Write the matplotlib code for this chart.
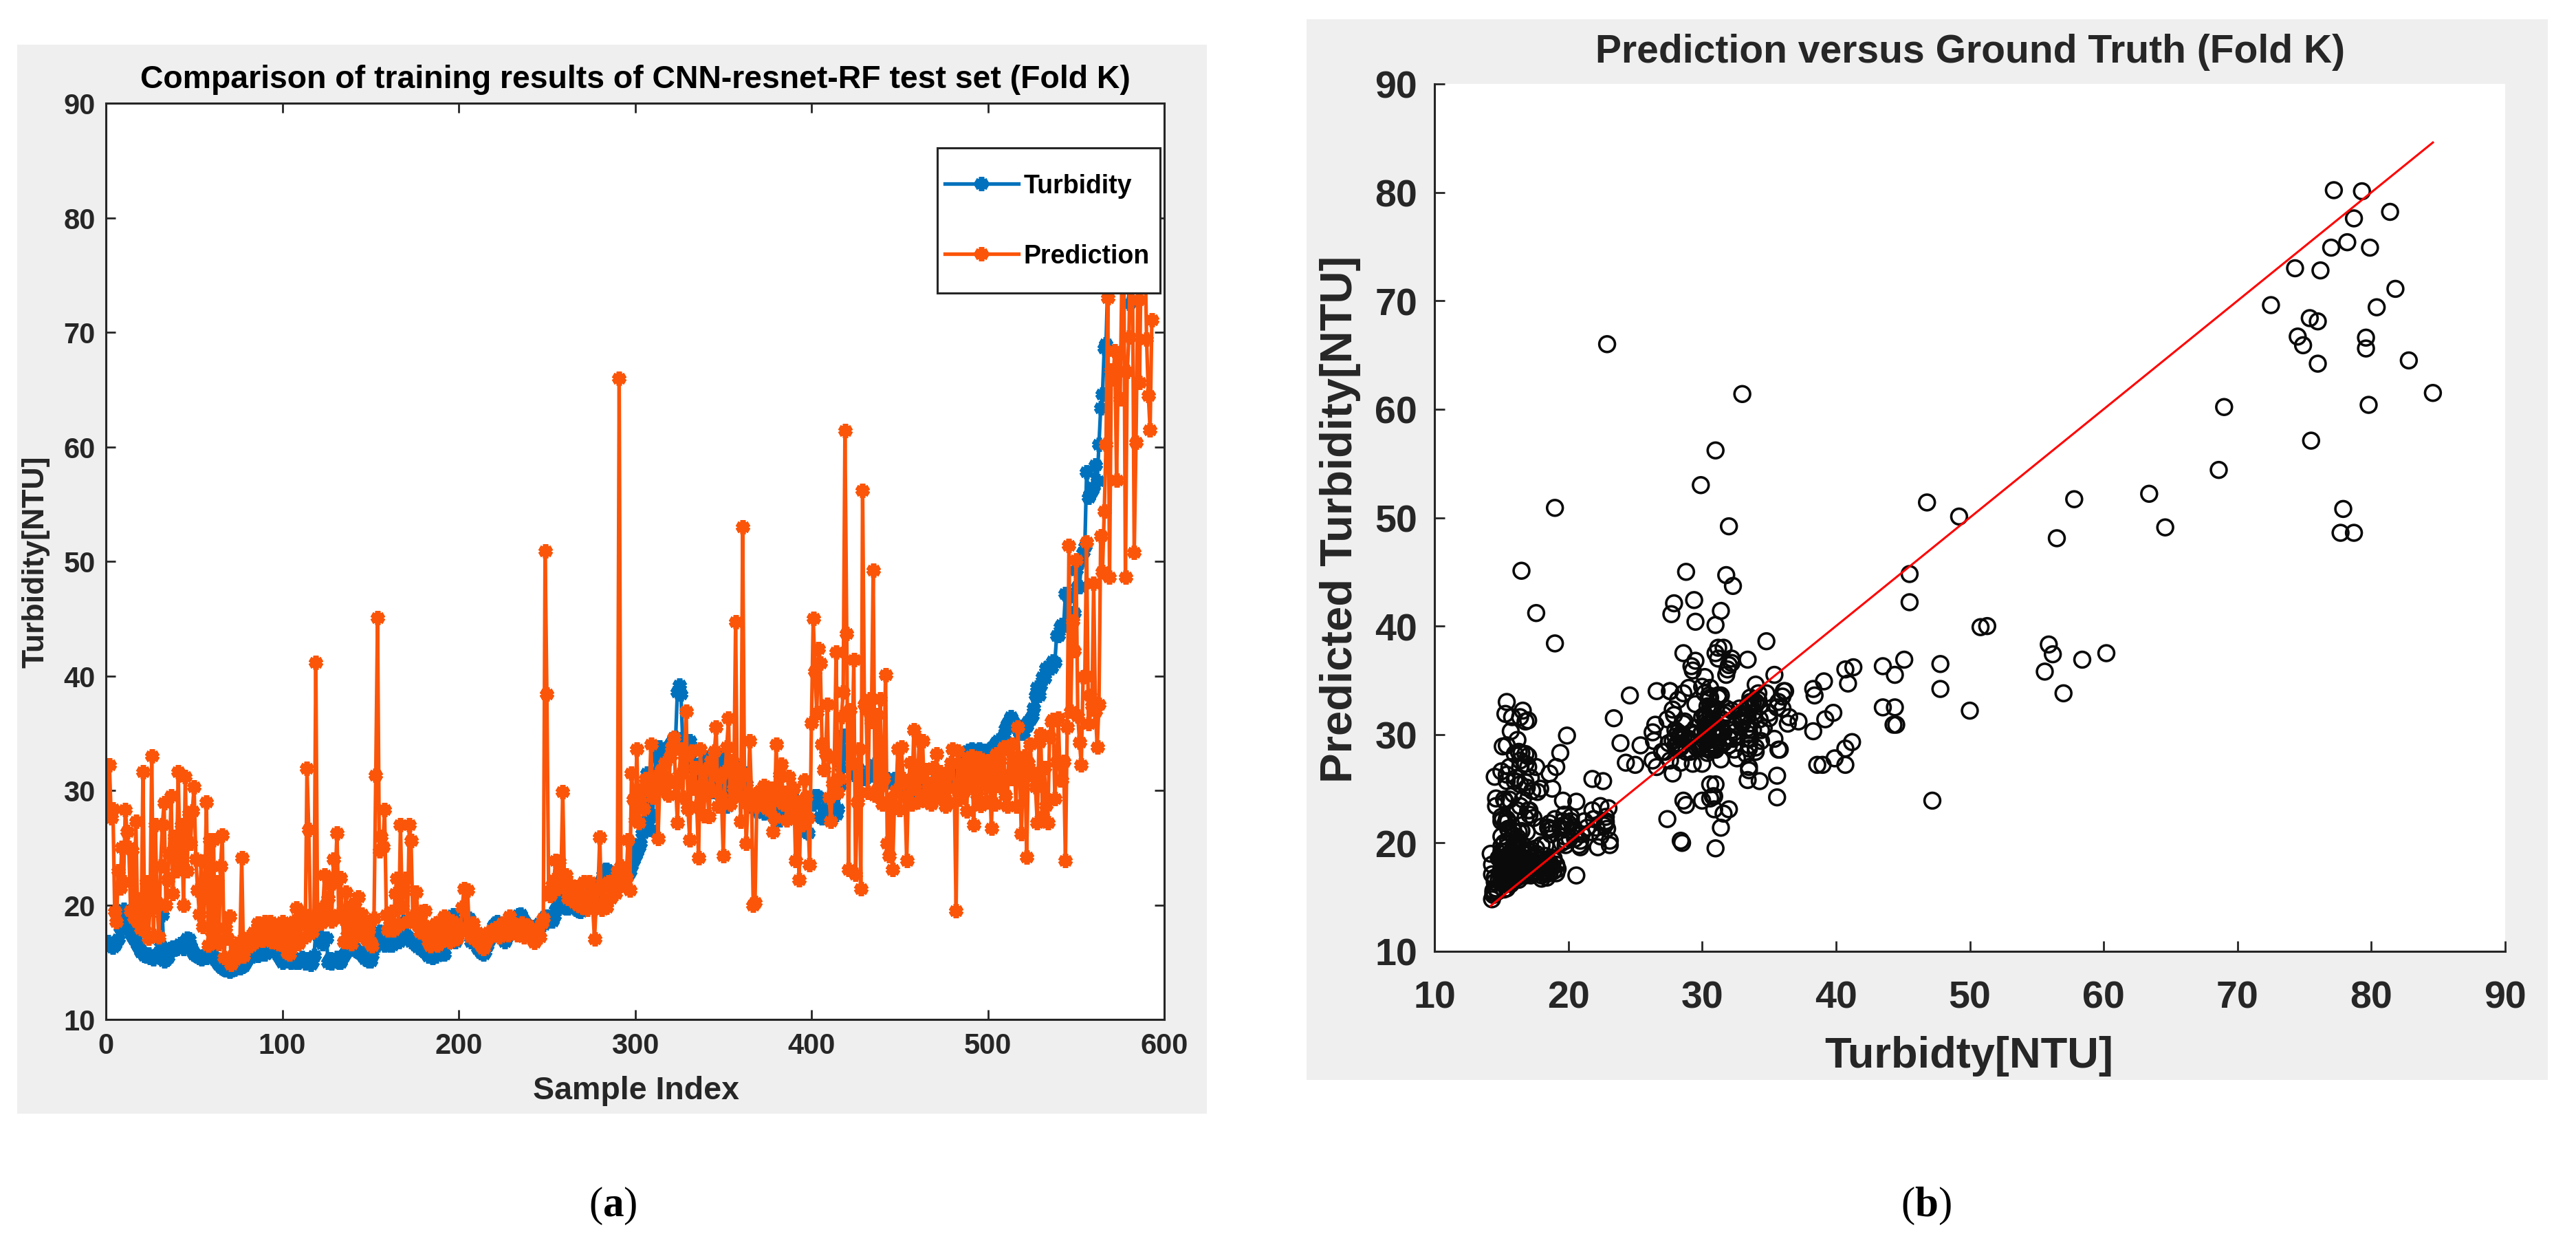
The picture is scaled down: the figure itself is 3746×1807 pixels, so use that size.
import numpy as np
import matplotlib
matplotlib.use("Agg")
import matplotlib.pyplot as plt

W, H = 3746, 1808

plt.rcParams['font.family'] = ['Liberation Sans', 'DejaVu Sans']
plt.rcParams['mathtext.fontset'] = 'custom'
plt.rcParams['mathtext.bf'] = 'Liberation Serif:bold'

# measured values per sample index, both panels are drawn from these
turbidity = [
    16.8,16.6,16.4,16.3,16.5,16.8,17.0,18.0,18.8,19.6,
    19.4,18.6,17.9,17.6,17.3,17.0,16.8,16.5,16.2,15.9,
    15.8,15.6,15.5,15.7,15.4,15.4,15.3,15.6,15.5,15.8,
    16.4,19.1,15.1,15.2,15.4,15.9,16.2,16.3,16.1,16.2,
    16.4,16.6,16.4,16.2,16.8,17.1,17.0,16.4,16.0,15.7,
    15.6,15.5,15.4,15.3,15.5,15.6,15.4,15.8,16.0,15.7,
    15.4,15.2,15.0,14.8,14.6,14.5,14.4,14.3,14.3,14.2,
    14.3,14.4,14.4,14.5,14.6,14.5,14.6,14.7,15.0,15.3,
    15.5,15.7,15.5,15.8,15.9,15.6,15.8,15.7,15.9,15.7,
    16.0,15.9,16.1,16.0,16.2,15.8,16.0,15.6,15.3,15.0,
    15.2,15.1,15.4,15.2,15.0,15.3,15.1,15.0,15.0,15.2,
    15.4,15.1,14.9,15.3,15.0,14.8,15.0,15.6,17.6,17.4,
    17.2,17.0,16.6,17.1,17.1,15.0,15.3,14.9,15.2,15.1,
    15.4,15.0,15.0,15.4,15.6,15.9,16.0,16.2,16.3,16.4,
    16.2,16.0,15.9,15.8,15.8,15.5,15.3,15.2,15.1,15.1,
    15.6,16.4,17.0,16.5,17.7,17.2,16.9,16.5,16.6,16.7,
    16.5,16.5,16.7,16.9,16.8,16.8,17.6,18.0,18.5,17.4,
    17.2,17.0,16.8,16.9,16.8,16.5,16.3,16.4,16.1,16.0,
    15.9,15.7,15.5,15.6,15.4,15.6,15.5,15.7,15.9,15.8,
    15.7,15.7,16.6,17.6,18.4,18.9,19.1,16.8,17.2,17.6,
    18.0,18.3,18.5,18.7,18.8,18.8,16.8,17.0,16.8,16.6,
    16.2,16.0,15.8,15.7,15.9,16.4,16.9,17.4,17.8,18.2,
    18.4,18.5,18.2,17.6,17.1,16.8,17.1,17.4,17.6,17.8,
    18.2,18.6,18.9,19.1,19.2,18.9,18.6,18.4,18.2,18.1,
    18.0,18.0,18.0,18.1,18.2,18.4,18.4,18.3,19.0,19.0,
    18.6,18.7,18.6,19.0,19.6,20.4,20.6,20.2,19.9,19.8,
    19.7,19.7,20.0,20.3,20.1,19.8,19.6,19.5,19.4,19.8,
    20.2,20.5,20.9,21.2,21.0,20.8,20.6,20.9,21.4,21.8,
    22.2,22.7,23.1,23.1,22.8,22.4,22.1,21.9,21.7,21.8,
    22.9,22.4,22.8,23.0,22.8,22.6,22.9,23.4,23.9,24.3,
    24.6,25.0,25.4,26.3,27.2,28.6,31.5,29.4,26.6,27.8,
    31.4,32.9,33.4,33.8,33.2,33.5,32.8,33.0,33.6,34.0,
    34.2,34.0,34.6,38.6,39.2,38.4,34.4,33.8,33.4,34.0,
    34.3,33.6,32.4,31.8,31.0,30.6,31.4,32.2,32.6,32.9,
    32.0,31.4,30.6,29.9,30.6,31.8,32.4,33.0,31.6,30.8,
    30.3,28.6,29.2,29.8,30.4,31.2,31.8,32.0,31.6,30.0,
    29.9,31.5,30.6,29.6,29.0,28.6,28.5,28.4,28.2,28.3,
    28.4,28.2,28.0,28.4,28.8,28.6,28.2,27.8,27.6,27.6,
    27.5,27.4,27.8,28.4,28.0,28.4,28.7,29.0,29.1,29.2,
    28.6,28.0,27.4,27.0,26.6,26.5,26.4,26.3,28.8,29.3,
    28.8,29.5,29.5,29.4,27.7,27.6,27.9,28.2,28.6,29.0,
    29.3,29.5,29.5,27.9,28.4,30.4,32.0,34.8,33.0,32.3,
    32.0,32.2,31.8,31.4,31.6,32.0,31.2,31.4,31.0,31.0,
    31.2,31.2,31.6,31.9,32.0,32.3,32.2,31.6,31.2,31.0,
    30.8,31.0,31.0,30.9,30.7,30.9,31.0,30.8,30.5,30.4,
    30.2,30.6,30.4,30.0,30.4,30.8,30.5,30.2,30.0,29.8,
    30.0,30.3,30.6,30.4,30.2,30.0,30.2,30.4,30.6,30.8,
    30.5,30.2,30.0,30.2,30.4,30.6,30.8,31.0,31.0,31.2,
    31.0,31.0,31.2,31.6,32.2,32.6,33.0,33.3,33.5,33.5,
    33.6,33.5,33.4,33.5,33.6,33.5,33.4,33.5,33.5,33.4,
    33.6,33.5,33.8,34.0,34.2,34.4,34.3,34.3,34.8,35.4,
    35.8,36.0,36.4,36.1,35.6,35.7,35.4,35.0,35.6,35.0,
    35.7,35.6,36.0,36.2,36.5,37.2,38.3,39.0,38.3,39.1,
    39.9,39.8,40.7,40.7,40.9,40.7,41.3,41.2,43.5,43.5,
    44.3,44.5,44.4,47.2,44.4,46.8,45.1,45.5,45.5,49.2,
    47.8,47.8,50.0,50.8,51.3,57.8,55.6,55.9,56.2,56.5,
    58.4,57.0,60.2,63.4,64.6,68.6,69.0,74.3,77.7,74.5,
    74.9,75.4,75.5,76.0,76.0,77.0,77.2,78.7,79.6,72.5,
    79.3,78.2,77.9,79.8,76.2,79.6,78.7,79.9,81.4,80.4,
    82.8,84.6,81.8,
]

prediction = [
    28.2,32.2,27.6,28.4,19.4,18.5,23.0,21.5,25.0,22.0,
    28.3,26.4,25.0,19.5,24.8,18.9,27.3,18.5,20.5,17.9,
    31.6,17.8,22.0,17.1,19.6,33.0,17.3,27.0,20.2,17.2,
    23.4,27.0,28.9,20.0,22.2,24.5,29.5,21.0,26.0,23.0,
    31.6,24.0,27.0,20.0,31.2,23.0,28.0,25.4,28.2,30.3,
    24.0,21.3,19.2,23.8,18.1,21.0,29.0,16.5,25.7,17.6,
    25.7,17.2,22.0,16.6,23.4,26.1,15.4,18.0,17.1,19.0,
    14.8,15.6,15.2,16.4,15.8,16.8,24.1,15.5,16.4,16.6,
    17.2,16.4,16.9,17.6,16.8,18.4,17.0,18.2,16.9,18.5,
    17.4,18.0,18.5,16.8,17.6,18.2,17.0,16.6,17.8,18.5,
    16.4,18.2,15.8,15.7,16.3,17.4,18.6,19.7,16.6,17.0,
    18.4,19.2,17.2,31.9,26.6,18.6,17.6,19.0,41.2,18.8,
    19.4,18.4,19.8,22.6,19.2,20.6,21.8,18.6,24.0,22.2,
    26.3,19.2,22.4,18.8,16.8,21.1,17.4,19.8,16.6,18.8,
    20.2,17.6,20.7,18.4,19.2,17.2,18.6,16.9,17.8,16.7,
    16.4,18.8,31.3,45.1,24.7,26.0,25.1,28.3,19.1,17.8,
    18.6,19.4,17.8,21.0,22.3,18.2,27.0,19.8,21.4,22.3,
    18.6,27.0,25.6,19.0,18.4,21.1,18.8,17.6,19.4,18.2,
    19.5,17.4,16.8,16.4,17.8,16.6,18.4,16.5,17.2,18.6,
    16.9,19.0,17.4,18.2,16.8,18.6,17.2,18.4,17.0,18.0,
    17.6,19.8,21.4,18.0,21.3,17.8,17.2,18.4,17.0,17.6,
    16.8,17.4,16.4,16.2,16.6,17.0,17.6,17.2,17.8,17.4,
    18.0,17.6,17.2,17.9,18.4,17.6,18.2,17.4,19.0,17.6,
    17.8,18.2,17.4,18.0,17.6,18.4,17.2,17.8,18.2,17.4,
    17.8,17.0,16.7,17.4,18.0,17.2,18.4,18.8,50.9,38.4,
    21.2,20.8,21.8,22.2,23.9,21.4,23.8,22.4,29.9,21.6,
    22.6,20.6,21.8,21.2,20.4,20.2,21.6,20.0,21.4,19.8,
    22.0,20.4,19.6,22.0,20.8,19.8,17.0,20.2,21.4,25.9,
    19.6,21.6,20.2,19.8,22.0,20.6,21.4,22.2,21.0,23.0,
    66.0,23.4,21.8,23.2,22.4,25.7,21.3,31.5,29.2,27.4,
    33.6,27.2,29.0,30.2,28.4,31.0,30.3,30.0,34.0,29.4,
    30.6,31.2,25.8,30.4,31.8,30.0,32.4,31.0,29.6,33.0,
    33.8,34.6,30.6,27.2,31.4,33.6,29.4,33.0,36.9,28.4,
    25.7,33.4,30.2,32.0,28.6,24.1,33.6,30.4,27.8,31.8,
    29.8,27.7,32.6,30.0,33.4,35.5,28.6,31.2,29.4,24.3,
    31.6,33.8,36.3,28.8,32.6,30.2,44.7,29.6,31.8,27.3,
    53.0,31.4,25.4,28.8,34.3,29.6,20.0,20.2,28.6,29.8,
    30.0,29.2,30.4,29.0,28.4,29.8,30.2,26.4,27.6,34.0,
    29.2,31.4,32.3,28.8,29.8,27.4,31.2,29.6,28.4,30.2,
    23.9,29.0,22.2,28.4,27.0,30.9,29.4,27.6,23.5,35.9,
    45.0,40.4,36.8,42.4,41.1,34.0,31.8,33.2,37.5,29.4,
    27.3,30.6,32.8,42.1,29.8,31.0,36.4,38.6,61.4,43.7,
    23.1,37.0,32.4,41.4,22.7,29.0,33.6,21.4,56.2,37.5,
    37.0,29.8,38.0,36.0,49.2,29.6,36.6,30.2,38.0,28.8,
    31.0,40.1,25.4,24.3,29.2,23.1,28.6,30.0,33.6,28.3,
    33.8,31.0,29.4,23.9,30.6,32.4,28.8,35.3,30.2,29.0,
    34.4,31.2,34.3,29.6,31.8,29.0,30.6,28.8,32.0,30.4,
    33.2,29.4,31.6,29.8,30.6,28.6,31.4,29.0,32.4,33.6,
    30.2,19.5,33.4,29.2,32.2,29.8,31.6,28.2,32.8,30.4,
    33.0,27.0,31.8,29.6,32.8,28.7,30.6,32.4,29.0,32.6,
    31.0,26.7,32.0,28.8,33.2,30.4,32.6,31.4,33.8,29.6,
    28.6,33.5,31.0,34.0,32.5,28.6,35.5,32.0,26.2,31.5,
    33.0,24.2,32.4,34.0,31.6,31.2,30.3,27.2,34.2,34.9,
    27.8,32.0,28.7,27.2,34.7,36.0,36.2,29.3,32.5,36.3,
    30.9,30.9,32.5,23.9,35.5,51.4,36.9,44.8,42.2,50.1,
    36.5,34.2,32.2,39.9,40.0,51.7,35.8,38.3,37.4,48.1,
    36.9,33.8,37.5,52.2,49.1,54.4,60.2,73.0,48.6,66.7,
    65.9,68.4,57.1,68.1,64.2,74.9,80.2,48.6,66.6,69.6,
    80.1,75.4,50.8,60.4,72.8,65.6,77.6,74.9,78.2,69.4,
    64.5,61.5,71.1,
]

x_ticks_a = [0, 100, 200, 300, 400, 500, 600]
y_ticks = [10, 20, 30, 40, 50, 60, 70, 80, 90]

BLUE = '#0072BD'
ORANGE = '#FB5509'
GRAY = '#EFEFEF'
DARK = '#262626'


def px_box(x0, y0, x1, y1):
    # pixel box with y from the top -> figure fractions
    return [x0 / W, 1 - y1 / H, (x1 - x0) / W, (y1 - y0) / H]


def px_text(x, y, s, **kw):
    return fig.text(x / W, 1 - y / H, s, ha='center', va='center', **kw)


fig = plt.figure(figsize=(W / 100, H / 100), dpi=100, facecolor='white')

# gray MATLAB figure backgrounds, behind the axes
for x0, y0, x1, y1 in [(25, 66, 1755, 1620), (1900, 29, 3705, 1571)]:
    fig.add_artist(plt.Rectangle((x0 / W, 1 - y1 / H), (x1 - x0) / W, (y1 - y0) / H,
                                 transform=fig.transFigure, facecolor=GRAY, edgecolor='none', zorder=-5))

# panel a
ax = fig.add_axes(px_box(154, 151, 1693, 1483))
idx = np.arange(1, len(turbidity) + 1)
star = (6, 2, 0)
ax.plot(idx, turbidity, color=BLUE, lw=3.8, marker=star, ms=14.5, mew=5.5, label='Turbidity')
ax.plot(idx, prediction, color=ORANGE, lw=3.8, marker=star, ms=14.5, mew=5.5, label='Prediction')
ax.set_xlim(0, 600)
ax.set_ylim(10, 90)
ax.set_xticks(x_ticks_a)
ax.set_yticks(y_ticks)
ax.tick_params(direction='in', top=True, right=True, length=10, width=2, color=DARK,
               labelcolor=DARK, labelsize=30)
ax.tick_params(axis='x', pad=13)
ax.tick_params(axis='y', pad=11)
for lab in ax.get_xticklabels() + ax.get_yticklabels():
    lab.set_fontweight('bold')
for s in ax.spines.values():
    s.set_linewidth(2.2)
    s.set_color(DARK)

# legend box drawn apart so its padding can follow the original
ax.add_patch(plt.Rectangle((1363 / W, 1 - 427 / H), 324 / W, 211 / H, transform=fig.transFigure,
                           facecolor='white', edgecolor=DARK, lw=2.2, zorder=9, clip_on=False))
leg = ax.legend(loc='upper left', bbox_to_anchor=(1374 / W, 1 - 253 / H), bbox_transform=fig.transFigure,
                prop={'weight': 'bold', 'size': 27}, frameon=False, borderaxespad=0, borderpad=0,
                labelspacing=1.75, handlelength=2.85, handletextpad=0.2)
leg.set_zorder(10)

px_text(924, 116, 'Comparison of training results of CNN-resnet-RF test set (Fold K)',
        fontsize=33.4, fontweight='bold', color='black')
px_text(925, 1586, 'Sample Index', fontsize=33.5, fontweight='bold', color=DARK)
px_text(52, 817, 'Turbidity[NTU]', fontsize=32, fontweight='bold', color=DARK, rotation=90)

# panel b
ax2 = fig.add_axes(px_box(2086, 123, 3643, 1384))
ax2.scatter(turbidity, prediction, s=270, facecolors='none', edgecolors='#0A0A0A', linewidths=2.6)
line_ends = [min(turbidity), max(turbidity)]
ax2.plot(line_ends, line_ends, color='#FF0000', lw=2.2)
ax2.set_xlim(10, 90)
ax2.set_ylim(10, 90)
ax2.set_xticks(y_ticks)
ax2.set_yticks(y_ticks)
ax2.tick_params(direction='in', length=11, width=2, color=DARK, labelsize=40, labelcolor=DARK)
ax2.tick_params(axis='x', pad=30)
ax2.tick_params(axis='y', pad=18)
for lab in ax2.get_xticklabels() + ax2.get_yticklabels():
    lab.set_fontweight('bold')
ax2.spines['top'].set_visible(False)
ax2.spines['right'].set_visible(False)
for name in ('left', 'bottom'):
    ax2.spines[name].set_linewidth(2.2)
    ax2.spines[name].set_color(DARK)

px_text(2865, 76, 'Prediction versus Ground Truth (Fold K)', fontsize=41, fontweight='bold', color=DARK)
px_text(2863, 1536, 'Turbidty[NTU]', fontsize=45.5, fontweight='bold', color=DARK)
px_text(1949, 755, 'Predicted Turbidity[NTU]', fontsize=47, fontweight='bold', color=DARK, rotation=90)

# captions
px_text(891, 1753, r'($\mathbf{a}$)', fontsize=44, family='Liberation Serif', color='black')
px_text(2801, 1753, r'($\mathbf{b}$)', fontsize=44, family='Liberation Serif', color='black')

fig.savefig('out.png', dpi=100)
